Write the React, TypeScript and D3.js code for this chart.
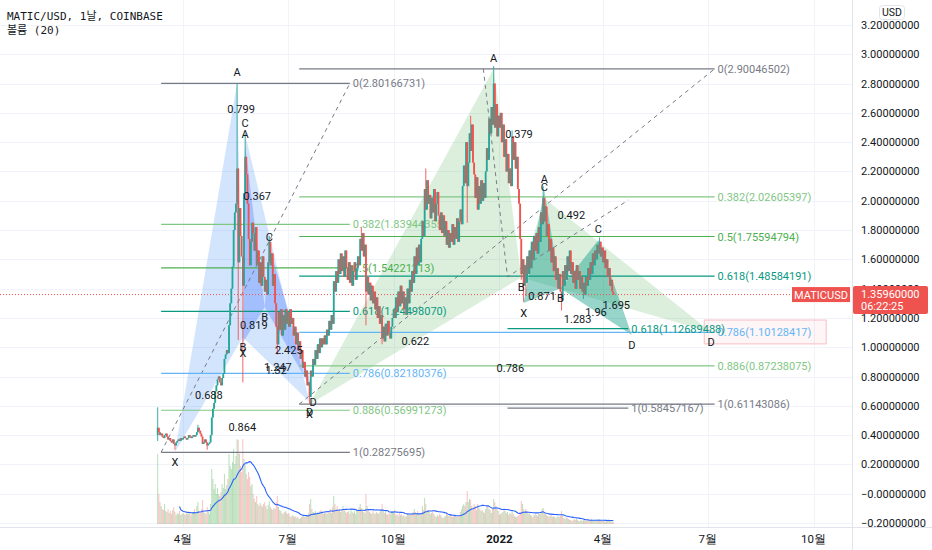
import React from "react";
import * as d3 from "d3";

// MATIC/USD daily closes (Coinbase)
const firstDay = "2021-03-10";
const firstOpen = 0.4;

const close2021_03 = [0.45, 0.42, 0.40, 0.41, 0.39, 0.38, 0.40, 0.41, 0.39, 0.37, 0.38, 0.36, 0.35, 0.37, 0.34, 0.33, 0.35, 0.36, 0.37, 0.36, 0.38, 0.37];
const close2021_04 = [0.38, 0.39, 0.38, 0.37, 0.38, 0.40, 0.39, 0.38, 0.39, 0.40, 0.39, 0.40, 0.42, 0.45, 0.43, 0.41, 0.39, 0.34, 0.35, 0.37, 0.35, 0.33, 0.34, 0.35, 0.40, 0.52, 0.58, 0.62, 0.70, 0.74];
const close2021_05 = [0.78, 0.80, 0.76, 0.74, 0.79, 0.82, 0.92, 0.95, 0.98, 0.96, 1.15, 1.30, 1.40, 1.55, 1.80, 1.92, 1.98, 2.22, 1.58, 1.95, 1.76, 1.62, 1.42, 2.05, 2.30, 2.18, 1.98, 1.74, 1.56, 1.72, 1.85];
const close2021_06 = [1.78, 1.66, 1.82, 1.56, 1.66, 1.44, 1.58, 1.42, 1.62, 1.48, 1.38, 1.46, 1.36, 1.58, 1.72, 1.56, 1.64, 1.42, 1.50, 1.30, 1.14, 1.02, 1.24, 1.12, 1.26, 1.08, 1.22, 1.12, 1.26, 1.16];
const close2021_07 = [1.24, 1.14, 1.26, 1.16, 1.20, 1.08, 1.14, 1.02, 1.10, 0.98, 1.04, 0.92, 0.98, 0.86, 0.90, 0.80, 0.84, 0.74, 0.76, 0.66, 0.84, 0.80, 0.92, 0.88, 0.98, 0.92, 1.02, 0.96, 1.06, 1.00, 1.06];
const close2021_08 = [1.02, 1.08, 1.02, 1.12, 1.08, 1.18, 1.12, 1.22, 1.16, 1.45, 1.38, 1.52, 1.44, 1.60, 1.50, 1.64, 1.52, 1.62, 1.48, 1.66, 1.54, 1.46, 1.58, 1.44, 1.56, 1.42, 1.52, 1.58, 1.46, 1.54, 1.62];
const close2021_09 = [1.56, 1.74, 1.66, 1.78, 1.62, 1.70, 1.38, 1.48, 1.36, 1.44, 1.32, 1.42, 1.30, 1.38, 1.26, 1.34, 1.20, 1.28, 1.16, 1.22, 1.06, 1.14, 1.04, 1.16, 1.08, 1.18, 1.10, 1.06, 1.14, 1.20];
const close2021_10 = [1.26, 1.20, 1.34, 1.24, 1.38, 1.28, 1.42, 1.30, 1.38, 1.26, 1.34, 1.22, 1.40, 1.30, 1.46, 1.38, 1.52, 1.44, 1.62, 1.50, 1.68, 1.56, 1.70, 1.58, 1.74, 1.86, 1.76, 2.08, 1.94, 2.14, 1.98];
const close2021_11 = [2.04, 1.88, 2.02, 1.92, 2.08, 1.86, 1.98, 2.06, 1.90, 1.80, 1.92, 1.78, 1.90, 1.76, 1.86, 1.70, 1.80, 1.68, 1.78, 1.72, 1.84, 1.70, 1.82, 1.74, 1.88, 1.72, 1.86, 1.94, 1.84, 2.10];
const close2021_12 = [2.24, 2.12, 2.40, 2.10, 2.26, 2.46, 2.34, 2.52, 2.26, 2.18, 2.02, 2.16, 1.94, 2.10, 1.98, 2.14, 2.00, 2.12, 2.02, 2.20, 2.36, 2.28, 2.56, 2.46, 2.64, 2.52, 2.80, 2.50, 2.66, 2.44, 2.58];
const close2022_01 = [2.50, 2.60, 2.40, 2.52, 2.30, 2.42, 2.20, 2.32, 2.12, 2.22, 2.10, 2.44, 2.28, 2.40, 2.22, 2.30, 2.08, 1.98, 1.74, 1.50, 1.60, 1.42, 1.56, 1.44, 1.62, 1.50, 1.66, 1.54, 1.72, 1.60, 1.76];
const close2022_02 = [1.66, 1.78, 1.64, 1.82, 1.72, 1.92, 1.84, 2.02, 1.86, 1.96, 1.76, 1.84, 1.66, 1.74, 1.58, 1.68, 1.52, 1.62, 1.46, 1.54, 1.40, 1.50, 1.38, 1.32, 1.52, 1.42, 1.56, 1.46];
const close2022_03 = [1.62, 1.52, 1.66, 1.50, 1.58, 1.44, 1.52, 1.40, 1.56, 1.46, 1.52, 1.40, 1.48, 1.38, 1.44, 1.36, 1.48, 1.42, 1.54, 1.46, 1.58, 1.50, 1.64, 1.56, 1.66, 1.60, 1.70, 1.64, 1.72, 1.62, 1.68];
const close2022_04 = [1.58, 1.66, 1.54, 1.60, 1.48, 1.54, 1.42, 1.46, 1.38, 1.3596];

// daily volume, millions
const vol2021_03 = [140, 60, 44, 36, 30, 28, 40, 26, 24, 30, 22, 26, 20, 28, 34, 24, 18, 22, 20, 26, 18, 20];
const vol2021_04 = [22, 20, 18, 24, 20, 26, 22, 18, 20, 24, 30, 22, 36, 44, 26, 22, 30, 48, 26, 22, 20, 34, 24, 20, 40, 110, 90, 70, 80, 60];
const vol2021_05 = [72, 60, 56, 64, 80, 72, 100, 70, 78, 90, 140, 116, 110, 124, 150, 120, 136, 170, 168, 140, 116, 104, 170, 130, 120, 100, 90, 104, 94, 76, 80];
const vol2021_06 = [60, 50, 44, 56, 40, 36, 42, 38, 34, 40, 44, 36, 30, 38, 46, 34, 30, 28, 32, 30, 44, 56, 34, 28, 26, 22, 20, 24, 26, 22];
const vol2021_07 = [20, 22, 16, 14, 18, 16, 14, 16, 12, 14, 10, 12, 14, 16, 18, 14, 16, 18, 22, 40, 50, 30, 24, 22, 26, 20, 24, 22, 26, 28, 22];
const vol2021_08 = [20, 22, 24, 20, 26, 24, 30, 22, 34, 56, 40, 30, 36, 26, 30, 24, 28, 36, 30, 26, 22, 24, 26, 20, 30, 24, 22, 26, 20, 28, 30];
const vol2021_09 = [34, 40, 32, 26, 24, 22, 60, 36, 28, 24, 22, 20, 26, 22, 20, 24, 22, 20, 24, 28, 40, 30, 22, 26, 20, 18, 22, 20, 24, 26];
const vol2021_10 = [24, 28, 18, 20, 16, 22, 18, 20, 16, 18, 14, 16, 20, 22, 18, 20, 22, 24, 30, 24, 22, 26, 20, 18, 22, 36, 28, 52, 40, 26, 28];
const vol2021_11 = [24, 20, 22, 26, 20, 16, 14, 18, 16, 20, 18, 14, 12, 14, 16, 22, 18, 16, 20, 18, 14, 16, 18, 16, 14, 16, 14, 24, 30, 36];
const vol2021_12 = [40, 36, 44, 66, 44, 50, 48, 36, 30, 40, 36, 28, 40, 34, 30, 26, 28, 24, 22, 30, 34, 36, 30, 28, 22, 30, 50, 44, 36, 30, 26];
const vol2022_01 = [18, 20, 22, 24, 30, 26, 22, 24, 18, 22, 20, 24, 20, 16, 14, 14, 16, 18, 24, 46, 40, 30, 26, 30, 24, 20, 22, 18, 16, 14, 18];
const vol2022_02 = [20, 18, 16, 22, 20, 24, 30, 32, 22, 20, 18, 16, 14, 16, 18, 14, 16, 14, 12, 14, 16, 14, 16, 26, 18, 12, 10, 14];
const vol2022_03 = [12, 10, 8, 8, 6, 8, 10, 8, 10, 8, 6, 6, 8, 6, 8, 8, 6, 8, 6, 6, 8, 10, 8, 6, 8, 6, 10, 8, 10, 8, 6];
const vol2022_04 = [6, 6, 4, 6, 6, 8, 6, 6, 4, 4];

// wicks that reach past the candle body
const wickHigh: [string, number][] = [
  ["2021-03-10", 0.59], ["2021-04-14", 0.47], ["2021-05-18", 2.80], ["2021-05-25", 2.46],
  ["2021-06-15", 1.76], ["2021-09-03", 1.82], ["2021-10-29", 2.22], ["2021-12-07", 2.58],
  ["2021-12-27", 2.92], ["2022-01-12", 2.48], ["2022-02-08", 2.10], ["2022-03-29", 1.75],
];
const wickLow: [string, number][] = [
  ["2021-03-10", 0.36], ["2021-03-25", 0.30], ["2021-04-22", 0.30], ["2021-05-19", 1.05],
  ["2021-05-23", 0.76], ["2021-06-22", 0.95], ["2021-07-20", 0.611], ["2021-09-07", 1.15],
  ["2021-09-21", 1.02], ["2021-12-04", 1.85], ["2022-01-20", 1.46], ["2022-01-22", 1.31],
  ["2022-01-24", 1.35], ["2022-02-24", 1.25], ["2022-03-15", 1.33],
];

// XABCD patterns: X, A, B, C, D  (date, price)
const patternBlue1: [string, number][] = [["2021-03-25", 0.28275695], ["2021-05-18", 2.80166731], ["2021-05-23", 1.0687], ["2021-05-25", 2.4534], ["2021-07-20", 0.6256]];
const patternBlue2: [string, number][] = [["2021-05-23", 1.03], ["2021-05-25", 2.38], ["2021-06-11", 1.274], ["2021-06-15", 1.68], ["2021-07-23", 0.695]];
const patternGreen1: [string, number][] = [["2021-07-20", 0.61143086], ["2021-12-27", 2.90046502], ["2022-01-20", 1.4767], ["2022-02-09", 2.0163], ["2022-07-04", 1.1017]];
const patternGreen2: [string, number][] = [["2022-01-22", 1.302], ["2022-02-09", 2.074], ["2022-02-23", 1.4016], ["2022-03-28", 1.7324], ["2022-04-26", 1.084]];
// ratio labels: XB, AC, BD, XD
const ratiosBlue1 = ["0.688", "0.799", "1.32", "0.864"];
const ratiosBlue2 = ["0.819", "0.367", "2.425", "1.247"];
const ratiosGreen1 = ["0.622", "0.379", "1.695", "0.786"];
const ratiosGreen2 = ["0.871", "0.492", "1.96", "1.283"];

// fib retracements: [level-1 point, level-0 point]
const fibA: [string, number][] = [["2021-03-13", 0.2827569452], ["2021-08-24", 2.8016673052]];
const fibB: [string, number][] = [["2021-07-11", 0.61143086], ["2022-07-07", 2.90046502]];
const fibLevels = [0, 0.382, 0.5, 0.618, 0.786, 0.886, 1];
// trend-based fib extension, three points
const fibC: [string, number][] = [["2021-12-18", 2.90046502], ["2022-01-08", 1.48077075], ["2022-04-23", 2.00426594]];
const fibCLevels = [0.618, 1];
const levelColor: Record<string, string> = {
  "0": "#787b86", "0.382": "#81c784", "0.5": "#4caf50", "0.618": "#089981",
  "0.786": "#64b5f6", "0.886": "#81c784", "1": "#787b86",
};
const pinkBox = { from: "2022-06-28", to: "2022-10-12", top: 1.186, bottom: 1.0225 };

const timeTicks = ["2021-04-01", "2021-07-01", "2021-10-01", "2022-01-01", "2022-04-01", "2022-07-01", "2022-10-01"];
const timeTickLabels = ["4월", "7월", "10월", "2022", "4월", "7월", "10월"];
const lastPrice = 1.3596;

const parse = d3.timeParse("%Y-%m-%d");
const D = (s: string) => parse(s) as Date;
const fmtDay = d3.timeFormat("%Y-%m-%d");

const PR = 852; // plot right
const PB = 527; // plot bottom

const x = d3.scaleTime().domain([D("2021-04-01"), D("2022-04-01")]).range([183, 603]);
const y = d3.scaleLinear().domain([-0.2, 3.2]).range([523, 25]);
const yVol = d3.scaleLinear().domain([0, 170]).range([524, 439]);

const UP = "#26a69a";
const DOWN = "#ef5350";
const TEXT = "#131722";

const closes = [close2021_03, close2021_04, close2021_05, close2021_06, close2021_07, close2021_08, close2021_09, close2021_10, close2021_11, close2021_12, close2022_01, close2022_02, close2022_03, close2022_04].flat();
const volumes = [vol2021_03, vol2021_04, vol2021_05, vol2021_06, vol2021_07, vol2021_08, vol2021_09, vol2021_10, vol2021_11, vol2021_12, vol2022_01, vol2022_02, vol2022_03, vol2022_04].flat();

const hiMap = new Map(wickHigh);
const loMap = new Map(wickLow);

const candles = closes.map((c, i) => {
  const date = d3.timeDay.offset(D(firstDay), i);
  const o = i === 0 ? firstOpen : closes[i - 1];
  const key = fmtDay(date);
  const h = Math.max(o, c, hiMap.get(key) ?? -1);
  const l = Math.min(o, c, loMap.get(key) ?? 99);
  return { date, o, h, l, c, v: volumes[i] ?? 0 };
});

const volMA = candles.map((d, i) =>
  i < 19 ? null : (d3.mean(candles.slice(i - 19, i + 1), (e) => e.v) as number)
);

const priceTicks = d3.range(-1, 17).map((i) => +(i * 0.2).toFixed(1));
const fmtPrice = (v: number) => {
  if (Math.abs(v) < 1e-9) return "\u22120.00000000";
  return v < 0 ? "\u2212" + Math.abs(v).toFixed(8) : v.toFixed(8);
};

const patterns = [
  { pts: patternBlue1, ratios: ratiosBlue1, fill: "rgba(33,120,243,0.2)" },
  { pts: patternBlue2, ratios: ratiosBlue2, fill: "rgba(41,98,255,0.28)" },
  { pts: patternGreen1, ratios: ratiosGreen1, fill: "rgba(76,175,80,0.2)" },
  { pts: patternGreen2, ratios: ratiosGreen2, fill: "rgba(8,153,129,0.42)" },
];

function Pattern({ pts, fill }: { pts: [string, number][]; fill: string }) {
  const p = pts.map(([d, v]) => [x(D(d)), y(v)] as [number, number]);
  const tri = (a: number, b: number, c: number) => `M${p[a][0]},${p[a][1]}L${p[b][0]},${p[b][1]}L${p[c][0]},${p[c][1]}Z`;
  return (
    <g>
      <path d={tri(0, 1, 2)} fill={fill} />
      <path d={tri(2, 3, 4)} fill={fill} />
    </g>
  );
}

function PatternLabels({ pts, ratios }: { pts: [string, number][]; ratios: string[] }) {
  const p = pts.map(([d, v]) => [x(D(d)), y(v)] as [number, number]);
  const names = ["X", "A", "B", "C", "D"];
  const pairs = [[0, 2], [1, 3], [2, 4], [0, 4]];
  return (
    <g fontSize={11} fill={TEXT} textAnchor="middle">
      {p.map(([px, py], i) => (
        <text key={"n" + i} x={px} y={i % 2 === 1 ? py - 7 : py + 14}>{names[i]}</text>
      ))}
      {pairs.map(([a, b], i) => (
        <text key={"r" + i} x={(p[a][0] + p[b][0]) / 2} y={(p[a][1] + p[b][1]) / 2 + 4}>{ratios[i]}</text>
      ))}
    </g>
  );
}

function FibRetracement({ pts }: { pts: [string, number][] }) {
  const [p1, p0] = pts;
  const x1 = x(D(p1[0]));
  const x0 = x(D(p0[0]));
  return (
    <g fontSize={11}>
      <line x1={x1} y1={y(p1[1])} x2={x0} y2={y(p0[1])} stroke="#787b86" strokeDasharray="4 4" />
      {fibLevels.map((l) => {
        const v = p0[1] + l * (p1[1] - p0[1]);
        const c = levelColor[String(l)];
        return (
          <g key={l}>
            <line x1={x1} x2={x0} y1={y(v)} y2={y(v)} stroke={c} strokeWidth={1.2} />
            <text x={x0 + 3} y={y(v) + 4} fill={c}>{`${l}(${v.toFixed(8)})`}</text>
          </g>
        );
      })}
    </g>
  );
}

function FibExtension({ pts }: { pts: [string, number][] }) {
  const p = pts.map(([d, v]) => [x(D(d)), y(v)]);
  const range = pts[0][1] - pts[1][1];
  return (
    <g fontSize={11}>
      <polyline points={p.map((q) => q.join(",")).join(" ")} fill="none" stroke="#787b86" strokeDasharray="4 4" />
      {fibCLevels.map((l) => {
        const v = pts[2][1] - l * range;
        const c = levelColor[String(l)];
        return (
          <g key={l}>
            <line x1={p[1][0]} x2={p[2][0]} y1={y(v)} y2={y(v)} stroke={c} strokeWidth={1.2} />
            <text x={p[2][0] + 3} y={y(v) + 4} fill={c}>{`${l}(${v.toFixed(8)})`}</text>
          </g>
        );
      })}
    </g>
  );
}

export default function App() {
  const maLine = d3
    .line<{ date: Date; m: number | null }>()
    .defined((d) => d.m != null)
    .x((d) => x(d.date))
    .y((d) => yVol(d.m as number))(candles.map((d, i) => ({ date: d.date, m: volMA[i] })));

  const yLast = y(lastPrice);

  return (
    <svg width={932} height={550} style={{ position: "absolute", left: 0, top: 0, background: "#fff" }} fontFamily="Roboto, sans-serif">
      <defs>
        <clipPath id="plot">
          <rect x={0} y={0} width={PR} height={PB} />
        </clipPath>
      </defs>
      <rect width={932} height={550} fill="#fff" />

      {/* grid */}
      <g stroke="#f0f3fa" strokeWidth={1}>
        {priceTicks.map((t) => (
          <line key={t} x1={0} x2={PR} y1={Math.round(y(t)) + 0.5} y2={Math.round(y(t)) + 0.5} />
        ))}
        {timeTicks.map((t) => (
          <line key={t} x1={Math.round(x(D(t))) + 0.5} x2={Math.round(x(D(t))) + 0.5} y1={0} y2={PB} />
        ))}
      </g>

      <g clipPath="url(#plot)">
        {/* volume */}
        {candles.map((d, i) => (
          <rect key={i} x={x(d.date) - 0.5} width={1} y={yVol(d.v)} height={yVol(0) - yVol(d.v)}
            fill={d.c >= d.o ? "rgba(76,175,80,0.4)" : "rgba(239,83,80,0.35)"} />
        ))}
        <path d={maLine ?? ""} fill="none" stroke="#2962ff" strokeWidth={1.1} />

        {/* drawings */}
        {patterns.map((p, i) => <Pattern key={i} pts={p.pts} fill={p.fill} />)}
        <rect x={x(D(pinkBox.from))} width={x(D(pinkBox.to)) - x(D(pinkBox.from))} y={y(pinkBox.top)}
          height={y(pinkBox.bottom) - y(pinkBox.top)} fill="rgba(242,54,69,0.05)" stroke="rgba(242,54,69,0.3)" />
        <FibRetracement pts={fibA} />
        <FibRetracement pts={fibB} />
        <FibExtension pts={fibC} />

        {/* current price line */}
        <line x1={0} x2={PR} y1={yLast} y2={yLast} stroke={DOWN} strokeDasharray="1 2" />

        {/* candles */}
        {candles.map((d, i) => {
          const cx = x(d.date);
          const col = d.c >= d.o ? UP : DOWN;
          const top = y(Math.max(d.o, d.c));
          const bot = y(Math.min(d.o, d.c));
          return (
            <g key={i}>
              <line x1={cx} x2={cx} y1={y(d.h)} y2={y(d.l)} stroke={col} strokeWidth={0.9} />
              <rect x={cx - 0.9} width={1.8} y={top} height={Math.max(1, bot - top)} fill={col} />
            </g>
          );
        })}

        {patterns.map((p, i) => <PatternLabels key={i} pts={p.pts} ratios={p.ratios} />)}
      </g>

      {/* header */}
      <g fontFamily="'DejaVu Sans Mono', 'Noto Sans CJK KR', monospace" fontSize={11} fill={TEXT}>
        <text x={7} y={20}>MATIC/USD, 1날, COINBASE</text>
        <text x={7} y={34}>볼륨 (20)</text>
      </g>

      {/* axes frame */}
      <line x1={PR + 0.5} x2={PR + 0.5} y1={0} y2={550} stroke="#e0e3eb" />
      <line x1={0} x2={932} y1={PB + 0.5} y2={PB + 0.5} stroke="#e0e3eb" />

      {/* price axis */}
      <g fontSize={11} fill={TEXT}>
        {priceTicks.map((t) => (
          <text key={t} x={861} y={y(t) + 4}>{fmtPrice(t)}</text>
        ))}
      </g>
      <rect x={879.5} y={5.5} width={25} height={14} rx={3} fill="#fff" stroke="#e0e3eb" />
      <text x={892} y={16} fontSize={10.5} textAnchor="middle" fill={TEXT}>USD</text>

      {/* last price tags */}
      <rect x={792} y={yLast - 7.5} width={58} height={15} fill={DOWN} />
      <text x={821} y={yLast + 4} fontSize={11} textAnchor="middle" fill="#fff">MATICUSD</text>
      <rect x={853} y={yLast - 8.5} width={75} height={28} rx={2} fill={DOWN} />
      <text x={861} y={yLast + 3.5} fontSize={11} fill="#fff">{lastPrice.toFixed(8)}</text>
      <text x={861} y={yLast + 15.5} fontSize={11} fill="#fff">06:22:25</text>

      {/* time axis */}
      <g fontSize={11.5} fill={TEXT} textAnchor="middle">
        {timeTicks.map((t, i) => (
          <text key={t} x={x(D(t))} y={543} fontWeight={timeTickLabels[i] === "2022" ? 700 : 400}>
            {timeTickLabels[i]}
          </text>
        ))}
      </g>
    </svg>
  );
}
